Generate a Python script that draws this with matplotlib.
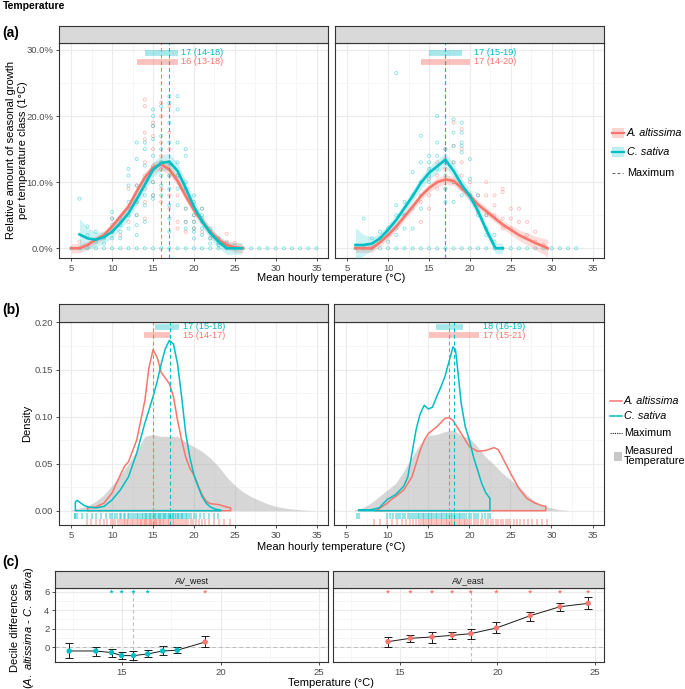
import matplotlib.pyplot as plt
from matplotlib.lines import Line2D
from matplotlib.patches import Rectangle

plt.rcParams['font.family'] = ['Liberation Sans', 'DejaVu Sans']
plt.rcParams['mathtext.fontset'] = 'custom'
plt.rcParams['mathtext.rm'] = 'Liberation Sans'
plt.rcParams['mathtext.it'] = 'Liberation Sans:italic'

RED = '#F8766D'
CYAN = '#00BFC4'
W, H = 685, 689

# ---------------- (a) seasonal growth per 1 °C class ----------------
# loess curves (%), left site
a_l_red_t = [5, 6, 7, 8, 9, 10, 11, 12, 13, 14, 15, 16, 17, 18, 19, 20, 21, 22, 23, 24, 25, 26]
a_l_red = [0, 0, 0.5, 1.3, 2.0, 3.3, 4.8, 6.3, 8.6, 10.7, 12.2, 12.7, 11.9, 10.2, 7.9, 5.8, 4.1, 2.5, 1.3, 0.5, 0.15, 0]
a_l_red_se = [0.7, 0.7, 0.6, 0.6, 0.6, 0.6, 0.6, 0.7, 0.7, 0.7, 0.8, 0.8, 0.8, 0.7, 0.7, 0.7, 0.6, 0.6, 0.6, 0.6, 0.7, 0.7]
a_l_cya_t = [6, 7, 8, 9, 10, 11, 12, 13, 14, 15, 16, 17, 18, 19, 20, 21, 22, 23, 24, 25, 25.8]
a_l_cya = [2.1, 1.5, 1.3, 1.7, 2.5, 3.8, 5.3, 7.4, 9.6, 11.9, 12.9, 13.1, 11.7, 9.1, 6.3, 4.1, 2.3, 1.0, 0, 0, 0]
a_l_cya_se = [2.4, 1.6, 1.1, 0.9, 0.9, 0.9, 0.9, 1.0, 1.0, 1.1, 1.2, 1.3, 1.2, 1.1, 1.0, 0.9, 0.9, 0.9, 0.9, 0.9, 0.9]
# right site
a_r_red_t = [6, 7, 8, 9, 10, 11, 12, 13, 14, 15, 16, 17, 18, 19, 20, 21, 22, 23, 24, 25, 26, 27, 28, 29, 29.5]
a_r_red = [0, 0, 0, 0.9, 2.0, 3.3, 4.8, 6.3, 7.9, 9.1, 10.0, 10.4, 10.2, 9.1, 7.9, 6.6, 5.6, 4.6, 3.6, 2.8, 2.0, 1.4, 0.8, 0.3, 0]
a_r_red_se = [0.6, 0.6, 0.6, 0.6, 0.6, 0.6, 0.6, 0.6, 0.6, 0.6, 0.7, 0.7, 0.7, 0.6, 0.6, 0.6, 0.6, 0.6, 0.6, 0.7, 0.8, 0.9, 1.0, 1.2, 1.3]
a_r_cya_t = [6, 7, 8, 9, 10, 11, 12, 13, 14, 15, 16, 17, 18, 19, 20, 21, 22, 23, 23.2, 24]
a_r_cya = [0.5, 0.5, 0.7, 1.5, 2.8, 4.3, 6.1, 7.9, 9.9, 11.4, 12.4, 13.4, 11.7, 9.6, 7.9, 5.6, 2.8, 0.3, 0, 0]
a_r_cya_se = [2.6, 1.6, 1.0, 0.8, 0.8, 0.8, 0.8, 0.9, 0.9, 1.0, 1.0, 1.1, 1.0, 1.0, 0.9, 0.9, 0.8, 0.8, 0.8, 0.8]

# individual tree values (%), by temperature class
a_l_red_pts = {6: [1.0], 10: [4.5, 2.5], 11: [4.0, 2.0], 12: [9.0, 6.0, 4.0], 13: [9.5, 7.0, 5.0],
               14: [22.5, 21.5, 17.5, 16.5, 13.0, 11.0, 9.0, 7.0, 4.5], 15: [19.0, 18.5, 17.0, 15.0, 12.5, 10.0, 8.0],
               16: [22.0, 20.0, 16.0, 14.0, 12.0, 9.0, 7.0], 17: [21.5, 17.5, 15.0, 12.5, 11.0, 8.0, 6.0],
               18: [11.0, 8.0, 4.0, 3.0], 19: [6.0, 4.0, 2.5], 20: [5.0, 4.0, 3.0], 21: [6.0, 4.5, 2.5],
               22: [2.5, 1.5], 23: [1.5], 24: [2.2, 1.0], 25: [0.8]}
a_l_cya_pts = {6: [7.5], 7: [3.3, 2.0], 8: [2.5, 1.0], 9: [1.5, 0.7], 10: [5.5, 4.5, 3.5, 2.5, 1.5],
               11: [4.5, 3.5, 2.5, 1.5], 12: [12.0, 11.0, 9.5, 7.0, 5.0, 3.0], 13: [16.0, 13.5, 9.5, 7.0, 5.0, 3.5, 2.0],
               14: [16.0, 15.0, 12.5, 10.5, 8.0, 6.5, 4.0], 15: [21.0, 20.0, 18.5, 16.5, 14.0, 12.0, 10.0, 8.0, 7.5],
               16: [21.5, 17.0, 15.0, 13.0, 11.0, 9.5, 8.0], 17: [23.0, 22.0, 19.0, 16.0, 13.0, 11.0, 9.0, 6.5, 4.5, 2.5],
               18: [23.0, 21.0, 16.0, 13.0, 11.0, 9.0, 6.5], 19: [15.0, 14.0, 10.0, 9.0, 6.0, 4.0, 3.0],
               20: [8.0, 7.0, 5.0, 4.0, 3.0, 2.5, 1.5], 21: [6.0, 5.0, 4.0, 3.0, 2.0], 22: [3.0, 2.5, 1.5, 0.7],
               23: [1.5, 0.8, 0.5], 24: [0.8]}
a_r_red_pts = {12: [5.0], 14: [7.0, 4.0], 15: [10.5, 8.0, 6.0], 16: [13.0, 11.0, 9.0], 17: [15.0, 13.5, 12.0, 9.0],
               18: [19.0, 15.5, 13.0, 10.0], 19: [18.0, 15.0, 13.0, 11.0, 9.0], 20: [10.0, 8.0], 21: [8.0, 5.5],
               22: [10.0, 8.0, 5.0], 23: [8.0, 6.5, 5.0], 24: [9.0, 8.5, 4.5, 3.0], 25: [6.0, 4.5, 3.0],
               26: [6.0, 4.0], 27: [4.0, 2.0], 28: [2.5, 1.0], 29: [0.5]}
a_r_cya_pts = {7: [4.5], 8: [1.5], 9: [2.5, 1.5], 10: [3.0, 2.0, 1.0], 11: [26.5, 6.5, 5.0, 3.0, 2.0],
               12: [7.0, 5.0, 3.0], 13: [11.5, 8.0, 6.0, 3.0], 14: [17.0, 13.0, 10.0, 8.0, 6.0],
               15: [14.0, 13.0, 12.0, 11.0, 10.0], 16: [20.0, 16.0, 14.0, 12.0], 17: [15.0, 13.0, 11.0, 9.0, 7.0],
               18: [19.5, 17.5, 15.5, 13.0, 10.0, 7.0], 19: [19.0, 17.5, 16.0, 15.5, 14.5, 8.0],
               20: [13.5, 10.5, 8.0], 21: [8.0, 5.0], 22: [5.0, 3.0, 2.0], 23: [2.0, 1.0]}
a_l_zero_t = list(range(5, 36))
a_r_zero_t = list(range(6, 34))

# optimum (maximum) and range bars
a_l_max = {'red': 16, 'cya': 17}
a_r_max = {'red': 17, 'cya': 17}
a_l_bar = {'cya': (14, 18, '17 (14-18)'), 'red': (13, 18, '16 (13-18)')}
a_r_bar = {'cya': (15, 19, '17 (15-19)'), 'red': (14, 20, '17 (14-20)')}

# ---------------- (b) densities ----------------
b_l_red_t = [7, 8, 9, 10, 11, 11.5, 12, 13, 14, 14.5, 15, 15.5, 16, 16.5, 17, 17.5, 18, 18.5, 19, 19.5, 20,
             20.5, 21, 21.5, 22, 23, 24, 24.5]
b_l_red = [0.003, 0.004, 0.008, 0.019, 0.038, 0.047, 0.052, 0.075, 0.117, 0.152, 0.171, 0.163, 0.147, 0.141,
           0.135, 0.121, 0.096, 0.075, 0.057, 0.045, 0.038, 0.027, 0.017, 0.010, 0.0075, 0.0065, 0.004, 0.003]
b_l_cya_t = [5.5, 5.7, 6.5, 7, 8, 9, 10, 11, 12, 13, 14, 15, 15.5, 16, 16.5, 17, 17.5, 18, 18.5, 19, 19.5,
             20, 20.5, 21, 21.5, 22, 22.5, 23, 23.3]
b_l_cya = [0.009, 0.011, 0.006, 0.004, 0.003, 0.0045, 0.0115, 0.022, 0.036, 0.061, 0.093, 0.121, 0.137, 0.156,
           0.172, 0.181, 0.177, 0.156, 0.121, 0.082, 0.057, 0.038, 0.026, 0.015, 0.008, 0.004, 0.002, 0.001, 0.0005]
b_l_tmp_t = [5, 6, 7, 8, 9, 10, 11, 12, 13, 14, 14.5, 15, 16, 17, 18, 19, 20, 21, 22, 23, 24, 25, 26, 27, 28,
             29, 30, 31, 32, 33, 34, 35]
b_l_tmp = [0.001, 0.003, 0.005, 0.010, 0.017, 0.027, 0.038, 0.050, 0.064, 0.079, 0.080, 0.081, 0.079, 0.079,
           0.079, 0.073, 0.068, 0.063, 0.056, 0.047, 0.036, 0.027, 0.020, 0.015, 0.011, 0.0074, 0.0046, 0.003,
           0.0018, 0.001, 0.0004, 0]
b_r_red_t = [8.5, 9, 10, 10.5, 11, 12, 13, 13.5, 14, 14.5, 15, 16, 17, 17.5, 18, 19, 20, 21, 22, 23, 23.5, 24,
             25, 26, 27, 28, 29, 29.3]
b_r_red = [0, 0.002, 0.008, 0.012, 0.015, 0.022, 0.036, 0.050, 0.064, 0.075, 0.082, 0.089, 0.098, 0.099, 0.096,
           0.082, 0.068, 0.063, 0.064, 0.067, 0.065, 0.057, 0.040, 0.024, 0.013, 0.008, 0.005, 0.0046]
b_r_cya_t = [6.5, 7, 8, 9, 10, 11, 12, 12.5, 13, 13.5, 14, 14.5, 15, 15.5, 16, 16.5, 17, 17.5, 18, 18.3, 18.5,
             19, 19.5, 20, 20.5, 21, 21.5, 22, 22.5]
b_r_cya = [0.001, 0.001, 0.001, 0.003, 0.012, 0.017, 0.026, 0.036, 0.061, 0.086, 0.103, 0.112, 0.108, 0.110,
           0.121, 0.131, 0.142, 0.158, 0.174, 0.171, 0.156, 0.114, 0.089, 0.075, 0.057, 0.043, 0.029, 0.019, 0.013]
b_r_tmp_t = [6, 7, 8, 9, 10, 11, 12, 13, 14, 15, 16, 17, 18, 19, 20, 21, 22, 23, 24, 25, 26, 27, 28, 29, 30,
             31, 32]
b_r_tmp = [0.001, 0.003, 0.008, 0.015, 0.022, 0.029, 0.042, 0.057, 0.071, 0.080, 0.081, 0.084, 0.086, 0.080,
           0.077, 0.068, 0.057, 0.049, 0.040, 0.033, 0.026, 0.017, 0.010, 0.005, 0.003, 0.001, 0.0004]

# rug: hourly temperatures at which growth occurred
b_l_cya_rug = [5.4, 5.5, 5.7, 6.3, 6.9, 7.5, 8.0, 8.6, 9.3, 9.7, 10.0, 10.3, 10.6, 10.9, 11.1, 11.4, 11.6, 11.9,
               12.1, 12.3, 12.6, 12.8, 13.0, 13.2, 13.4, 13.6, 13.8, 14.0, 14.1, 14.3, 14.5, 14.6, 14.8, 15.0,
               15.1, 15.3, 15.4, 15.6, 15.7, 15.9, 16.0, 16.2, 16.3, 16.5, 16.6, 16.8, 16.9, 17.1, 17.2, 17.4,
               17.5, 17.7, 17.8, 18.0, 18.1, 18.3, 18.5, 18.6, 18.8, 19.0, 19.2, 19.4, 19.7, 20.0, 20.3, 20.7,
               21.2, 21.8, 22.4, 23.0]
b_l_red_rug = [6.9, 7.4, 8.0, 8.5, 9.0, 9.4, 9.8, 10.1, 10.4, 10.7, 11.0, 11.2, 11.4, 11.6, 11.8, 12.0, 12.2,
               12.4, 12.6, 12.8, 13.0, 13.2, 13.4, 13.5, 13.7, 13.9, 14.0, 14.2, 14.3, 14.5, 14.6, 14.8, 14.9,
               15.1, 15.2, 15.4, 15.5, 15.7, 15.9, 16.0, 16.2, 16.4, 16.6, 16.8, 17.0, 17.2, 17.4, 17.6, 17.8,
               18.0, 18.3, 18.5, 18.8, 19.0, 19.3, 19.6, 19.9, 20.2, 20.6, 21.0, 21.4, 21.9, 22.5, 23.1, 23.7, 24.4]
b_r_cya_rug = [6.3, 6.5, 9.9, 10.3, 10.7, 11.0, 11.3, 11.6, 11.9, 12.2, 12.5, 12.8, 13.0, 13.3, 13.5, 13.7, 13.9,
               14.1, 14.3, 14.5, 14.7, 14.9, 15.1, 15.3, 15.5, 15.7, 15.9, 16.1, 16.3, 16.5, 16.7, 16.9, 17.1,
               17.3, 17.5, 17.7, 17.9, 18.1, 18.3, 18.5, 18.7, 18.9, 19.1, 19.3, 19.6, 19.9, 20.2, 20.5, 20.8,
               21.1, 21.5, 21.9, 22.3, 22.5]
b_r_red_rug = [8.4, 9.1, 9.9, 10.6, 11.2, 11.8, 12.3, 12.7, 13.1, 13.5, 13.8, 14.1, 14.3, 14.5, 14.7, 14.9, 15.1,
               15.3, 15.5, 15.7, 15.9, 16.1, 16.3, 16.5, 16.7, 16.9, 17.1, 17.3, 17.5, 17.7, 17.9, 18.1, 18.3,
               18.5, 18.7, 18.9, 19.1, 19.3, 19.5, 19.7, 19.9, 20.2, 20.5, 20.8, 21.1, 21.4, 21.7, 22.0, 22.3,
               22.6, 22.9, 23.2, 23.5, 23.8, 24.1, 24.4, 24.7, 25.0, 25.4, 25.8, 26.2, 26.6, 27.1, 27.6, 28.2,
               28.8, 29.4]
b_l_max = {'red': 15.0, 'cya': 17.1}
b_r_max = {'red': 17.5, 'cya': 18.1}
b_l_bar = {'cya': (15.3, 18.2, '17 (15-18)'), 'red': (13.9, 17.1, '15 (14-17)')}
b_r_bar = {'cya': (15.95, 19.2, '18 (16-19)'), 'red': (15.1, 21.2, '17 (15-21)')}

# ---------------- (c) decile differences ----------------
c_west_t = [12.32, 13.67, 14.47, 14.98, 15.58, 16.30, 17.06, 17.80, 19.22]
c_west_d = [-0.40, -0.40, -0.57, -0.90, -0.90, -0.72, -0.40, -0.32, 0.57]
c_west_lo = [-1.19, -0.93, -1.00, -1.29, -1.37, -1.08, -0.86, -0.65, 0.00]
c_west_hi = [0.43, 0.07, -0.22, -0.47, -0.40, -0.29, 0.14, 0.07, 1.22]
c_west_sig = [False, False, True, True, True, True, False, False, True]
c_west_med = 15.58
c_east_t = [14.41, 15.56, 16.66, 17.69, 18.64, 19.95, 21.68, 23.20, 24.64]
c_east_d = [0.61, 0.97, 1.11, 1.29, 1.47, 2.08, 3.41, 4.38, 4.74]
c_east_lo = [0.00, 0.54, 0.50, 0.90, 0.86, 1.51, 2.87, 3.92, 4.13]
c_east_hi = [1.08, 1.37, 1.69, 1.65, 2.01, 2.77, 3.84, 4.74, 5.39]
c_east_sig = [True] * 9
c_east_med = 18.64

fig = plt.figure(figsize=(W / 100, H / 100), dpi=100)
FS_AX = 8.0


def add_ax(x0, y0, x1, y1):
    return fig.add_axes([x0 / W, 1 - y1 / H, (x1 - x0) / W, (y1 - y0) / H])


def strip(x0, y0, x1, y1, label=''):
    s = add_ax(x0, y0, x1, y1)
    s.set_facecolor('#D9D9D9')
    s.set_xticks([])
    s.set_yticks([])
    for sp in s.spines.values():
        sp.set_color('#333333')
        sp.set_linewidth(0.8)
    if label:
        s.text(0.5, 0.45, label, ha='center', va='center', fontsize=6.3, color='#1A1A1A', transform=s.transAxes)


def style(ax, xt, xminor, yt, yminor, xlim, ylim, left=True):
    ax.set_xlim(xlim)
    ax.set_ylim(ylim)
    ax.set_xticks(xt)
    ax.set_xticks(xminor, minor=True)
    ax.set_yticks(yt)
    ax.set_yticks(yminor, minor=True)
    ax.grid(which='major', color='#EBEBEB', lw=0.8)
    ax.grid(which='minor', color='#F3F3F3', lw=0.5)
    ax.set_axisbelow(True)
    ax.tick_params(which='minor', length=0)
    ax.tick_params(which='major', length=2.5, width=0.6, color='#333333', labelsize=6.8,
                   labelcolor='#4D4D4D', pad=1.5)
    if not left:
        ax.tick_params(axis='y', left=False, labelleft=False)
    for sp in ax.spines.values():
        sp.set_color('#333333')
        sp.set_linewidth(0.8)


def dict_pts(d):
    xs, ys = [], []
    for k, vals in d.items():
        xs += [k] * len(vals)
        ys += vals
    return xs, ys


# ---------- panel (a) ----------
xt = [5, 10, 15, 20, 25, 30, 35]
xmin = [7.5, 12.5, 17.5, 22.5, 27.5, 32.5]
a_sets = [
    (59, 328, True, a_l_red_t, a_l_red, a_l_red_se, a_l_cya_t, a_l_cya, a_l_cya_se, a_l_red_pts, a_l_cya_pts,
     a_l_zero_t, a_l_max, a_l_bar),
    (335, 604, False, a_r_red_t, a_r_red, a_r_red_se, a_r_cya_t, a_r_cya, a_r_cya_se, a_r_red_pts, a_r_cya_pts,
     a_r_zero_t, a_r_max, a_r_bar),
]
for (x0, x1, left, rt, rv, rse, ct, cv, cse, rpts, cpts, zt, mx, bars) in a_sets:
    ax = add_ax(x0, 43, x1, 258)
    strip(x0, 26, x1, 43)
    style(ax, xt, xmin, [0, 10, 20, 30], [5, 15, 25], (3.5, 36.4), (-1.47, 31.05), left)
    ax.set_yticklabels(['0.0%', '10.0%', '20.0%', '30.0%'])
    px, py = dict_pts(rpts)
    ax.scatter(px, py, s=5, facecolors='none', edgecolors=RED, linewidths=0.55, alpha=0.5, zorder=2)
    px, py = dict_pts(cpts)
    ax.scatter(px, py, s=5, facecolors='none', edgecolors=CYAN, linewidths=0.55, alpha=0.5, zorder=2)
    ax.scatter(zt, [0] * len(zt), s=5, facecolors='none', edgecolors=CYAN, linewidths=0.55, alpha=0.55, zorder=2)
    ax.fill_between(rt, [v - s for v, s in zip(rv, rse)], [v + s for v, s in zip(rv, rse)],
                    color=RED, alpha=0.25, lw=0, zorder=3)
    ax.fill_between(ct, [v - s for v, s in zip(cv, cse)], [v + s for v, s in zip(cv, cse)],
                    color=CYAN, alpha=0.2, lw=0, zorder=3)
    ax.plot(rt, rv, color=RED, lw=1.9, zorder=4)
    ax.plot(ct, cv, color=CYAN, lw=1.9, zorder=5)
    ax.axvline(mx['red'], color=RED, lw=0.8, ls=(0, (3.5, 2.5)), zorder=6)
    ax.axvline(mx['cya'], color=CYAN, lw=0.8, ls=(0, (3.5, 2.5)), zorder=6)
    lo_c, hi_c, lab_c = bars['cya']
    lo_r, hi_r, lab_r = bars['red']
    tx = max(hi_c, hi_r) + 0.45
    ax.plot([lo_c, hi_c], [29.55, 29.55], color=CYAN, lw=4.2, alpha=0.35, solid_capstyle='butt', zorder=5)
    ax.plot([lo_r, hi_r], [28.2, 28.2], color=RED, lw=4.2, alpha=0.45, solid_capstyle='butt', zorder=5)
    ax.text(tx, 29.55, lab_c, color=CYAN, fontsize=6.6, va='center', ha='left', zorder=7)
    ax.text(tx, 28.2, lab_r, color=RED, fontsize=6.6, va='center', ha='left', zorder=7)

fig.text(331 / W, 1 - 278 / H, 'Mean hourly temperature (°C)', ha='center', va='center', fontsize=FS_AX)
fig.text(17 / W, 1 - 150 / H, 'Relative amount of seasonal growth\nper temperature class (1°C)',
         rotation=90, ha='center', va='center', fontsize=FS_AX, linespacing=1.25)

# ---------- panel (b) ----------
b_sets = [
    (59, 328, True, b_l_tmp_t, b_l_tmp, b_l_red_t, b_l_red, b_l_cya_t, b_l_cya, b_l_cya_rug, b_l_red_rug,
     b_l_max, b_l_bar),
    (334, 604, False, b_r_tmp_t, b_r_tmp, b_r_red_t, b_r_red, b_r_cya_t, b_r_cya, b_r_cya_rug, b_r_red_rug,
     b_r_max, b_r_bar),
]
for (x0, x1, left, gt, gv, rt, rv, ct, cv, crug, rrug, mx, bars) in b_sets:
    ax = add_ax(x0, 322, x1, 525)
    strip(x0, 304, x1, 322)
    style(ax, xt, xmin, [0, 0.05, 0.10, 0.15, 0.20], [0.025, 0.075, 0.125, 0.175], (3.5, 36.4),
          (-0.0152, 0.2005), left)
    ax.set_yticklabels(['0.00', '0.05', '0.10', '0.15', '0.20'])
    ax.fill_between(gt, 0, gv, color='#A6A6A6', alpha=0.45, lw=0, zorder=2)
    ax.vlines(crug, -0.0088, -0.0025, color=CYAN, lw=1.3, alpha=0.45, zorder=2)
    ax.vlines(rrug, -0.0150, -0.0088, color=RED, lw=1.3, alpha=0.45, zorder=2)
    ax.fill_between(rt, 0, rv, facecolor='none', edgecolor=RED, lw=1.1, zorder=4)
    ax.fill_between(ct, 0, cv, facecolor='none', edgecolor=CYAN, lw=1.1, zorder=5)
    ax.axvline(mx['red'], color=RED, lw=0.8, ls=(0, (3.5, 2.5)), zorder=6)
    ax.axvline(mx['cya'], color=CYAN, lw=0.8, ls=(0, (3.5, 2.5)), zorder=6)
    lo_c, hi_c, lab_c = bars['cya']
    lo_r, hi_r, lab_r = bars['red']
    tx = max(hi_c, hi_r) + 0.5
    ax.plot([lo_c, hi_c], [0.1955, 0.1955], color=CYAN, lw=4.2, alpha=0.35, solid_capstyle='butt', zorder=5)
    ax.plot([lo_r, hi_r], [0.1865, 0.1865], color=RED, lw=4.2, alpha=0.45, solid_capstyle='butt', zorder=5)
    ax.text(tx, 0.1955, lab_c, color=CYAN, fontsize=6.6, va='center', ha='left', zorder=7)
    ax.text(tx, 0.1865, lab_r, color=RED, fontsize=6.6, va='center', ha='left', zorder=7)

fig.text(331 / W, 1 - 547 / H, 'Mean hourly temperature (°C)', ha='center', va='center', fontsize=FS_AX)
fig.text(27 / W, 1 - 423 / H, 'Density', rotation=90, ha='center', va='center', fontsize=FS_AX)

# ---------- panel (c) ----------
c_sets = [
    (55, 328, True, 'AV_west', c_west_t, c_west_d, c_west_lo, c_west_hi, c_west_sig, c_west_med),
    (333, 604, False, 'AV_east', c_east_t, c_east_d, c_east_lo, c_east_hi, c_east_sig, c_east_med),
]
for (x0, x1, left, lab, t, d, lo, hi, sig, med) in c_sets:
    ax = add_ax(x0, 588, x1, 662)
    strip(x0, 571, x1, 588, lab)
    style(ax, [15, 20, 25], [12.5, 17.5, 22.5], [0, 2, 4, 6], [-1, 1, 3, 5], (11.6, 25.45), (-1.59, 6.4), left)
    ax.axhline(0, color='#BDBDBD', lw=0.7, ls=(0, (4, 3)), zorder=2)
    ax.axvline(med, color='#BDBDBD', lw=0.8, ls=(0, (3, 2.5)), zorder=2)
    ax.plot(t, d, color='#1A1A1A', lw=0.7, zorder=3)
    ax.errorbar(t, d, yerr=[[v - l for v, l in zip(d, lo)], [h - v for v, h in zip(d, hi)]],
                fmt='none', ecolor='#1A1A1A', elinewidth=0.7, capsize=2.6, capthick=0.7, zorder=3)
    cols = [RED if v > 0 else CYAN for v in d]
    ax.scatter(t, d, s=15, color=cols, zorder=4, lw=0)
    st = [ti for ti, s in zip(t, sig) if s]
    sc = [c for c, s in zip(cols, sig) if s]
    ax.scatter(st, [6] * len(st), marker='*', s=12, color=sc, lw=0, zorder=4)

fig.text(331 / W, 1 - 683 / H, 'Temperature (°C)', ha='center', va='center', fontsize=FS_AX)
fig.text(15 / W, 1 - 628 / H, 'Decile differences', rotation=90, ha='center', va='center', fontsize=FS_AX)
fig.text(29 / W, 1 - 628 / H, r'($\mathit{A.\ altissima}$ - $\mathit{C.\ sativa}$)', rotation=90,
         ha='center', va='center', fontsize=FS_AX)

# ---------- titles / panel letters ----------
fig.text(3 / W, 1 - 6 / H, 'Temperature', ha='left', va='center', fontsize=7.5, fontweight='bold')
for lab, yy in [('(a)', 33), ('(b)', 310), ('(c)', 562)]:
    fig.text(2 / W, 1 - yy / H, lab, ha='left', va='center', fontsize=10, fontweight='bold')


# ---------- legends ----------
def fline(xa, xb, y, **kw):
    fig.add_artist(Line2D([xa / W, xb / W], [1 - y / H, 1 - y / H], transform=fig.transFigure, **kw))


def frect(xa, ya, xb, yb, **kw):
    fig.add_artist(Rectangle((xa / W, 1 - yb / H), (xb - xa) / W, (yb - ya) / H, transform=fig.transFigure, **kw))


FS_LEG = 7.8
for col, y, name, a in [(RED, 133, 'A. altissima', 0.3), (CYAN, 152, 'C. sativa', 0.25)]:
    frect(612, y - 4.5, 624, y + 4.5, color=col, alpha=a, lw=0)
    fline(612, 624, y, color=col, lw=1.6)
    fig.text(627 / W, 1 - y / H, name, fontsize=FS_LEG, style='italic', va='center', ha='left')
fline(612, 623, 173, color='#666666', lw=0.8, ls=(0, (2.5, 2)))
fig.text(627 / W, 1 - 173 / H, 'Maximum', fontsize=FS_LEG, va='center', ha='left')

for col, y, name in [(RED, 401, 'A. altissima'), (CYAN, 416, 'C. sativa')]:
    fline(610, 622, y, color=col, lw=1.1)
    fig.text(624 / W, 1 - y / H, name, fontsize=FS_LEG, style='italic', va='center', ha='left')
fline(610, 622, 433, color='#1A1A1A', lw=0.8, ls=(0, (1, 1)))
fig.text(624 / W, 1 - 433 / H, 'Maximum', fontsize=FS_LEG, va='center', ha='left')
frect(614, 452, 622, 461, color='#C8C8C8', lw=0)
fig.text(624 / W, 1 - 456 / H, 'Measured\nTemperature', fontsize=FS_LEG, va='center', ha='left', linespacing=1.0)

fig.savefig('out.png', dpi=100)
